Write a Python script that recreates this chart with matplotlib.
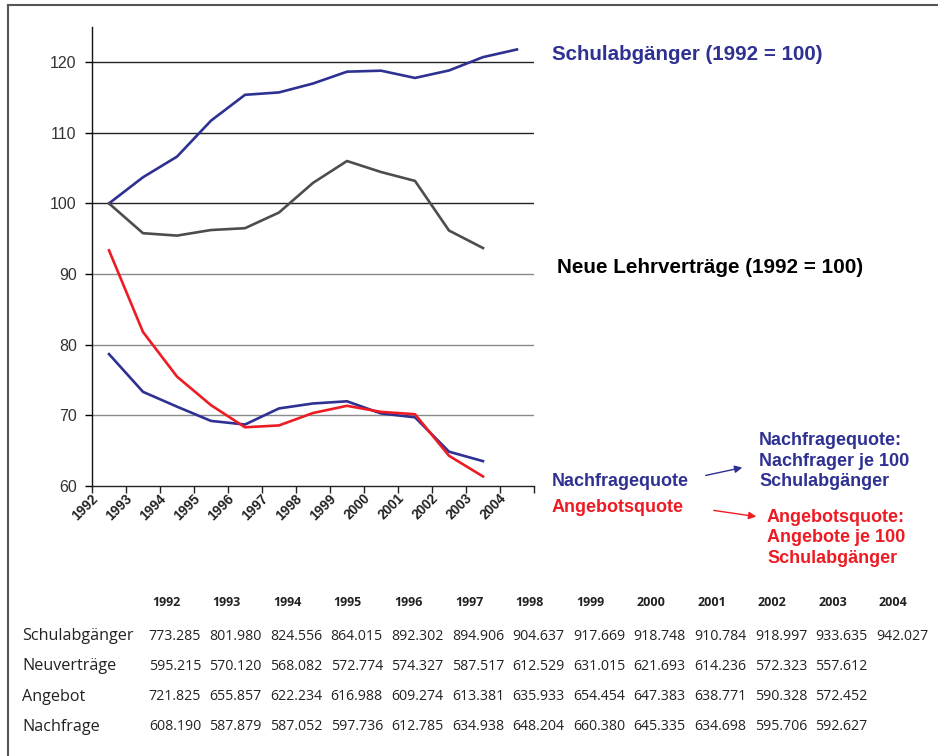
import matplotlib
matplotlib.use("Agg")
import matplotlib.pyplot as plt
from matplotlib.lines import Line2D
from matplotlib.patches import FancyArrowPatch
import numpy as np

# data (index values, table values from the picture)
years = ["1992", "1993", "1994", "1995", "1996", "1997", "1998",
         "1999", "2000", "2001", "2002", "2003", "2004"]

schulabgaenger_idx = [100.0, 103.71, 106.63, 111.73, 115.39, 115.73, 116.99,
                      118.67, 118.81, 117.78, 118.84, 120.73, 121.82]
lehrvertraege_idx = [100.0, 95.78, 95.44, 96.23, 96.49, 98.71, 102.91,
                     106.01, 104.45, 103.19, 96.16, 93.68]
nachfragequote = [78.65, 73.30, 71.20, 69.18, 68.67, 70.95, 71.65,
                  71.96, 70.24, 69.69, 64.82, 63.48]
angebotsquote = [93.35, 81.78, 75.46, 71.41, 68.28, 68.54, 70.30,
                 71.32, 70.46, 70.13, 64.24, 61.31]

row_labels = ["Schulabgänger", "Neuverträge", "Angebot", "Nachfrage"]
tab_schulabgaenger = [773.285, 801.980, 824.556, 864.015, 892.302, 894.906, 904.637,
                      917.669, 918.748, 910.784, 918.997, 933.635, 942.027]
tab_neuvertraege = [595.215, 570.120, 568.082, 572.774, 574.327, 587.517, 612.529,
                    631.015, 621.693, 614.236, 572.323, 557.612]
tab_angebot = [721.825, 655.857, 622.234, 616.988, 609.274, 613.381, 635.933,
               654.454, 647.383, 638.771, 590.328, 572.452]
tab_nachfrage = [608.190, 587.879, 587.052, 597.736, 612.785, 634.938, 648.204,
                 660.380, 645.335, 634.698, 595.706, 592.627]

NAVY = "#2E3192"
RED = "#ED1C24"
GREY = "#4D4D4D"

W, H = 938, 756
fig = plt.figure(figsize=(W / 100, H / 100), dpi=100)
plt.rcParams["font.family"] = ["Liberation Sans", "DejaVu Sans"]


def fx(px):
    return px / W


def fy(py):
    return 1 - py / H


# frame (left and top edge only)
fig.add_artist(Line2D([fx(7.5), fx(7.5)], [fy(5), 0], transform=fig.transFigure,
                      color="#555555", lw=1.5))
fig.add_artist(Line2D([fx(7.5), 1], [fy(5), fy(5)], transform=fig.transFigure,
                      color="#555555", lw=1.5))

ax = fig.add_axes([fx(92), fy(485.7), fx(534) - fx(92), fy(27) - fy(485.7)])
ax.set_xlim(0, 13)
ax.set_ylim(60, 125)

x13 = np.arange(13) + 0.5
x12 = np.arange(12) + 0.5
ax.plot(x13, schulabgaenger_idx, color=NAVY, lw=1.9, zorder=4)
ax.plot(x12, lehrvertraege_idx, color=GREY, lw=1.9, zorder=4)
ax.plot(x12, nachfragequote, color=NAVY, lw=1.9, zorder=4)
ax.plot(x12, angebotsquote, color=RED, lw=1.9, zorder=5)

for s in ["top", "right"]:
    ax.spines[s].set_visible(False)
ax.spines["left"].set_color("#111111")
ax.spines["left"].set_linewidth(1.0)
ax.spines["bottom"].set_color("#222222")
ax.spines["bottom"].set_linewidth(1.0)

# y axis
yticks = [60, 70, 80, 90, 100, 110, 120]
ax.set_yticks(yticks)
ax.set_yticklabels([str(v) for v in yticks], fontsize=11.5, color="#333333")
ax.tick_params(axis="y", direction="out", length=5, width=1, pad=6)
for v in yticks[1:]:
    c = "#222222" if v >= 100 else "#8a8a8a"
    ax.axhline(v, color=c, lw=1.0, zorder=1)
for t, v in zip(ax.yaxis.get_major_ticks(), yticks):
    t.tick1line.set_color("#222222" if (v >= 100 or v == 60) else "#8a8a8a")

# x axis
ax.set_xticks(np.arange(14))
ax.set_xticklabels([])
ax.tick_params(axis="x", which="major", direction="out", length=5, width=1, color="#222222")
ax.set_xticks(np.arange(13) + 0.27, minor=True)
ax.set_xticklabels(years, minor=True, rotation=45, ha="right", va="top",
                   fontsize=9.8, fontweight="bold", color="#222222")
ax.tick_params(axis="x", which="minor", length=0, pad=4)

# series labels
fig.text(fx(552), fy(54), "Schulabgänger (1992 = 100)", color=NAVY, fontsize=14.8,
         fontweight="bold", ha="left", va="center")
fig.text(fx(557), fy(268), "Neue Lehrverträge (1992 = 100)", color="black", fontsize=14.9,
         fontweight="bold", ha="left", va="center")
fig.text(fx(552), fy(481), "Nachfragequote", color=NAVY, fontsize=13,
         fontweight="bold", ha="left", va="center")
fig.text(fx(552), fy(508), "Angebotsquote", color=RED, fontsize=13,
         fontweight="bold", ha="left", va="center")
fig.text(fx(759), fy(461), "Nachfragequote:\nNachfrager je 100\nSchulabgänger", color=NAVY,
         fontsize=13, fontweight="bold", ha="left", va="center", linespacing=1.27)
fig.text(fx(767), fy(538), "Angebotsquote:\nAngebote je 100\nSchulabgänger", color=RED,
         fontsize=13, fontweight="bold", ha="left", va="center", linespacing=1.27)

fig.add_artist(FancyArrowPatch(
    (fx(703), fy(476)), (fx(745), fy(467)), transform=fig.transFigure,
    arrowstyle="-|>", mutation_scale=11, color=NAVY, lw=1.0))
fig.add_artist(FancyArrowPatch(
    (fx(711), fy(510)), (fx(759), fy(517)), transform=fig.transFigure,
    arrowstyle="-|>", mutation_scale=11, color=RED, lw=1.0))

# data table
col_x = [175 + i * 60.6 for i in range(13)]
row_y = [636, 666, 697, 727]
tfont = ["Open Sans", "DejaVu Sans"]
for cx, yr in zip(col_x, years):
    fig.text(fx(cx - 9), fy(603), yr, fontsize=9, fontweight="bold", family=tfont,
             color="#222222", ha="center", va="center")
rows = [tab_schulabgaenger, tab_neuvertraege, tab_angebot, tab_nachfrage]
for ry, lab, vals in zip(row_y, row_labels, rows):
    fig.text(fx(22), fy(ry), lab, fontsize=11.6, family=tfont, color="#222222",
             ha="left", va="center")
    for cx, v in zip(col_x, vals):
        fig.text(fx(cx), fy(ry), f"{v:.3f}", fontsize=10.2, family=tfont,
                 color="#222222", ha="center", va="center")

fig.savefig("out.png", dpi=100)
